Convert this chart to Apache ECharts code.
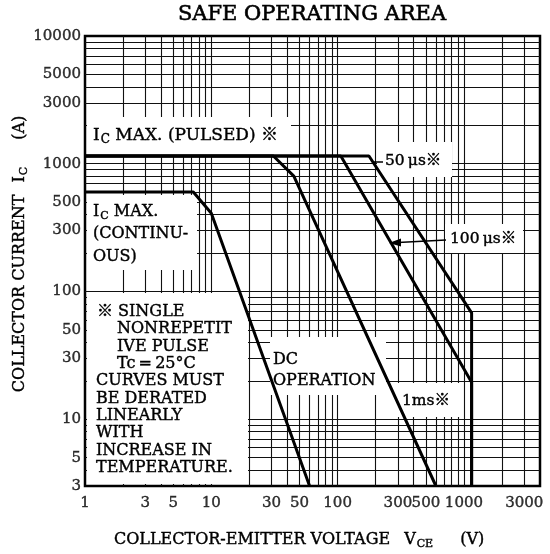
<!DOCTYPE html>
<html>
<head>
<meta charset="utf-8">
<script src="https://cdn.jsdelivr.net/npm/echarts@6/dist/echarts.min.js"></script>
<style>
html, body { margin: 0; padding: 0; background: #fff; }
#chart { width: 550px; height: 554px; }
</style>
</head>
<body>
<div id="chart"></div>
<script>
// break points of each curve: V_CE (V) and I_C (A)
const dcV = [1, 7.2, 10, 60]
const dcI = [600, 600, 410, 3]
const ms1V = [1, 31, 45, 600]
const ms1I = [1150, 1150, 800, 3]
const us100V = [1, 106, 1150, 1150]
const us100I = [1150, 1150, 19.5, 3]
const us50V = [1, 177, 1150, 1150]
const us50I = [1150, 1150, 68, 3]

// tick labels and log grid lines
const xTickLabels = [1, 3, 5, 10, 30, 50, 100, 300, 500, 1000, 3000]
const yTickLabels = [3, 5, 10, 30, 50, 100, 300, 500, 1000, 3000, 5000, 10000]
const xGridLines = [2, 3, 4, 5, 6, 7, 8, 9, 10, 20, 30, 40, 50, 60, 70, 80, 90,
  100, 200, 300, 400, 500, 600, 700, 800, 900, 1000, 2000, 3000]
const yGridLines = [4, 5, 6, 7, 8, 9, 10, 20, 30, 40, 50, 60, 70, 80, 90,
  100, 200, 300, 400, 500, 600, 700, 800, 900, 1000, 2000, 3000, 4000, 5000,
  6000, 7000, 8000, 9000]

const FONT = '"DejaVu Serif", "Noto Sans CJK JP", serif'
const INK = { textBorderColor: '#000', textBorderWidth: 0.4 }

const chart = echarts.init(document.getElementById('chart'))

function curve(xs, ys) {
  return {
    type: 'line',
    data: xs.map((v, i) => [v, ys[i]]),
    symbol: 'none',
    silent: true,
    z: 4,
    lineStyle: { color: '#000', width: 3 }
  }
}

function box(x, y, w, h) {
  return { type: 'rect', z: 3, silent: true, shape: { x: x, y: y, width: w, height: h }, style: { fill: '#fff' } }
}

function txt(x, y, text, size, extra) {
  return {
    type: 'text', z: 5, silent: true, x: x, y: y,
    style: Object.assign({
      text: text,
      font: size + 'px ' + FONT,
      fill: '#000',
      stroke: '#000',
      lineWidth: 0.4,
      verticalAlign: 'middle',
      align: 'left'
    }, extra || {})
  }
}

// rich token for graphic text (zrender style names)
function tok(size, extra) {
  return Object.assign({ fontFamily: FONT, fontSize: size, fill: '#000', stroke: '#000', lineWidth: 0.4 }, extra || {})
}

const richBase = (size) => ({
  n: tok(size, { lineHeight: size + 6 }),
  s: tok(Math.round(size * 0.7), { padding: [8, 0, 0, 1] })
})

chart.setOption({
  animation: false,
  grid: {
    left: 85, right: 10, top: 36, bottom: 68,
    show: true, borderColor: '#000', borderWidth: 2.5, backgroundColor: 'transparent'
  },
  xAxis: {
    type: 'log', logBase: 10, min: 1, max: 4000,
    axisLine: { show: false }, axisTick: { show: false },
    axisLabel: { show: false }, splitLine: { show: false }
  },
  yAxis: {
    type: 'log', logBase: 10, min: 3, max: 10000,
    axisLine: { show: false }, axisTick: { show: false },
    axisLabel: { show: false }, splitLine: { show: false }
  },
  series: [
    {
      // grid lines
      type: 'line',
      data: [[1, 3]],
      symbol: 'none',
      silent: true,
      lineStyle: { width: 0 },
      markLine: {
        silent: true,
        z: 1,
        symbol: ['none', 'none'],
        label: { show: false },
        emphasis: { disabled: true },
        lineStyle: { color: '#111', width: 1.1, type: 'solid' },
        data: xGridLines.map(v => ({ xAxis: v })).concat(yGridLines.map(v => ({ yAxis: v })))
      }
    },
    curve(dcV, dcI),
    curve(ms1V, ms1I),
    curve(us100V, us100I),
    curve(us50V, us50I),
    {
      type: 'scatter',
      data: xTickLabels.map(v => [v, 3]),
      symbolSize: 2,
      itemStyle: { color: 'rgba(0,0,0,0)' },
      clip: false,
      silent: true,
      z: 6,
      label: Object.assign({
        show: true, position: 'bottom', distance: 9,
        formatter: p => String(p.value[0]),
        fontFamily: FONT, fontSize: 15, color: '#000'
      }, INK)
    },
    {
      type: 'scatter',
      data: yTickLabels.map(v => [1, v]),
      symbolSize: 2,
      itemStyle: { color: 'rgba(0,0,0,0)' },
      clip: false,
      silent: true,
      z: 6,
      label: Object.assign({
        show: true, position: 'left', distance: 3,
        formatter: p => String(p.value[1]),
        fontFamily: FONT, fontSize: 15, color: '#000'
      }, INK)
    }
  ],
  graphic: [
    // white label boxes over the grid
    box(87, 117, 204, 38),
    box(87, 195, 110, 75),
    box(87, 293, 161, 191),
    box(270, 337, 116, 58),
    box(393, 383, 69, 34),
    box(377, 142, 75, 35),
    box(445, 224, 78, 29),

    txt(312, 15, 'SAFE OPERATING AREA', 21, { align: 'center', lineWidth: 0.6 }),

    {
      type: 'text', z: 5, silent: true, x: 93, y: 136,
      style: { text: '{n|I}{s|C}{n| MAX. (PULSED) ※}', rich: richBase(17), verticalAlign: 'middle' }
    },
    {
      type: 'text', z: 5, silent: true, x: 93, y: 201,
      style: {
        text: '{n|I}{s|C}{n| MAX.}\n{m|(CONTINU-}\n{m|OUS)}',
        rich: Object.assign(richBase(16), { m: tok(16, { lineHeight: 22.5 }) }),
        verticalAlign: 'top'
      }
    },
    txt(97, 312, '※ SINGLE', 16),
    txt(117, 320.5, 'NONREPETIT\nIVE PULSE\nTc\u2009=\u200925°C', 16, { verticalAlign: 'top', lineHeight: 17.3 }),
    txt(96, 372.5, 'CURVES MUST\nBE DERATED\nLINEARLY\nWITH\nINCREASE IN\nTEMPERATURE.', 16, { verticalAlign: 'top', lineHeight: 17.3 }),
    txt(273, 349, 'DC\nOPERATION', 16, { verticalAlign: 'top', lineHeight: 21 }),
    txt(402, 401, '1ms※', 15.5),
    txt(385, 161, '50\u2009μs※', 15.5),
    txt(450, 239, '100\u2009μs※', 15.5),

    // leader to 50us and arrow to 100us
    { type: 'line', z: 5, silent: true, shape: { x1: 372, y1: 162, x2: 383, y2: 162 }, style: { stroke: '#000', lineWidth: 1.5 } },
    { type: 'line', z: 5, silent: true, shape: { x1: 446, y1: 240, x2: 398, y2: 242.5 }, style: { stroke: '#000', lineWidth: 1.5 } },
    { type: 'polygon', z: 5, silent: true, shape: { points: [[389, 243], [401, 238.5], [401, 246.5]] }, style: { fill: '#000' } },

    // axis names
    {
      type: 'text', z: 5, silent: true, x: 114, y: 540,
      style: {
        text: '{n|COLLECTOR-EMITTER VOLTAGE}{b|V}{s|CE}{c|(V)}',
        rich: Object.assign(richBase(16), {
          b: tok(16, { padding: [0, 0, 0, 14] }),
          c: tok(16, { padding: [0, 0, 0, 27] })
        }),
        verticalAlign: 'middle'
      }
    },
    {
      type: 'text', z: 5, silent: true, x: 20, y: 254, rotation: Math.PI / 2,
      style: {
        text: '{n|COLLECTOR CURRENT}{b|I}{s|C}{c|(A)}',
        rich: Object.assign(richBase(16), {
          b: tok(16, { padding: [0, 0, 0, 12] }),
          c: tok(16, { padding: [0, 0, 0, 27] })
        }),
        align: 'center',
        verticalAlign: 'middle'
      }
    }
  ]
})
</script>
</body>
</html>
